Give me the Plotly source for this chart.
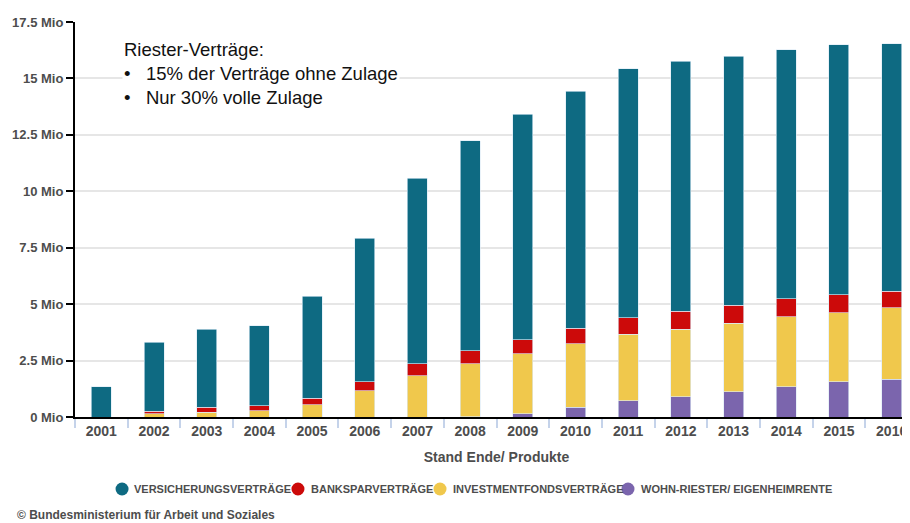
import plotly.graph_objects as go

years = [str(y) for y in range(2001, 2017)]

# values in millions of contracts
versicherung = [1.33, 3.06, 3.46, 3.56, 4.52, 6.35, 8.21, 9.31, 9.99, 10.50, 11.02, 11.08, 11.03, 11.02, 11.08, 10.96]
banksparen   = [0.00, 0.10, 0.22, 0.22, 0.29, 0.39, 0.53, 0.56, 0.63, 0.69, 0.74, 0.80, 0.80, 0.80, 0.80, 0.74]
investment   = [0.00, 0.15, 0.21, 0.27, 0.55, 1.17, 1.83, 2.35, 2.65, 2.81, 2.95, 2.99, 3.05, 3.10, 3.06, 3.16]
wohnriester  = [0.00, 0.00, 0.00, 0.00, 0.00, 0.00, 0.00, 0.02, 0.15, 0.44, 0.71, 0.89, 1.11, 1.34, 1.56, 1.68]

names = ["VERSICHERUNGSVERTRÄGE", "BANKSPARVERTRÄGE", "INVESTMENTFONDSVERTRÄGE", "WOHN-RIESTER/ EIGENHEIMRENTE"]
colors = ["#0e6a82", "#cc0a0a", "#f0c84c", "#7b65ad"]

y_ticks = [0, 2.5, 5, 7.5, 10, 12.5, 15, 17.5]
y_ticktext = ["0 Mio", "2.5 Mio", "5 Mio", "7.5 Mio", "10 Mio", "12.5 Mio", "15 Mio", "17.5 Mio"]

series = [versicherung, banksparen, investment, wohnriester]

FONT = "Liberation Sans, Arial, sans-serif"
GREY = "#4d4d4d"

fig = go.Figure()
# stack bottom -> top: wohn, invest, bank, versicherung
for idx in [3, 2, 1, 0]:
    fig.add_trace(go.Bar(
        x=years, y=series[idx], name=names[idx],
        marker=dict(color=colors[idx], line=dict(color="rgba(220,235,245,0.8)", width=0.8)),
        showlegend=False,
    ))

y_tick_font = dict(family=FONT, size=13, color=GREY, weight="bold")
x_tick_font = dict(family=FONT, size=14, color=GREY, weight="bold")

# manual legend (round markers, tight spacing as in the reference)
legend_marker_x = [0.0558, 0.2645, 0.4330, 0.6560]
legend_text_x = [0.0688, 0.2788, 0.4472, 0.6702]
legend_y = -0.1823

shapes = []
annotations = []
for i in range(4):
    shapes.append(dict(
        type="circle", xref="paper", yref="paper",
        xsizemode="pixel", ysizemode="pixel",
        xanchor=legend_marker_x[i], yanchor=legend_y,
        x0=-6.5, x1=6.5, y0=-6.5, y1=6.5,
        fillcolor=colors[i], line=dict(width=0),
    ))
    annotations.append(dict(
        xref="paper", yref="paper", x=legend_text_x[i], y=legend_y,
        xanchor="left", yanchor="middle", showarrow=False,
        text=names[i], font=dict(family=FONT, size=11, color=GREY, weight="bold"),
        borderpad=0,
    ))

annotations.append(dict(
    xref="paper", yref="paper", x=0.0558, y=0.962, xanchor="left", yanchor="top",
    text="Riester-Verträge:<br>•   15% der Verträge ohne Zulage<br>•   Nur 30% volle Zulage",
    showarrow=False, align="left",
    font=dict(family=FONT, size=18.5, color="#111111"),
    bgcolor="white", borderpad=1,
))
annotations.append(dict(
    xref="paper", yref="paper", x=-0.0712, y=-0.248, xanchor="left", yanchor="middle",
    text="© Bundesministerium für Arbeit und Soziales",
    showarrow=False, align="left",
    font=dict(family=FONT, size=12, color=GREY, weight="bold"),
))

# page body has an 8px margin, so the figure is laid out 8px up/left
fig.update_layout(
    width=910, height=523,
    barmode="stack", bargap=0.62,
    plot_bgcolor="white", paper_bgcolor="white",
    margin=dict(l=67, r=0, t=14, b=114, autoexpand=False),
    font=dict(family=FONT),
    showlegend=False,
    xaxis=dict(
        type="category", range=[-0.5, 15.5],
        showline=True, linecolor="black", linewidth=2,
        ticks="outside", tickson="boundaries", ticklen=9, tickwidth=2, tickcolor="#c5d3ea",
        tickfont=x_tick_font,
        title=dict(text="Stand Ende/ Produkte", font=dict(family=FONT, size=14, color=GREY, weight="bold"), standoff=14),
        showgrid=False, automargin=False,
    ),
    yaxis=dict(
        range=[0, 17.5], tickvals=y_ticks, ticktext=y_ticktext,
        showline=True, linecolor="black", linewidth=2,
        ticks="outside", ticklen=7, tickwidth=2, tickcolor="black",
        tickfont=y_tick_font,
        showgrid=True, gridcolor="#e6e6e6", gridwidth=2,
        zeroline=False, automargin=False,
    ),
    shapes=shapes,
    annotations=annotations,
)

fig.write_html(
    "out.html",
    post_script="document.documentElement.style.overflow='hidden';document.body.style.overflow='hidden';",
)
